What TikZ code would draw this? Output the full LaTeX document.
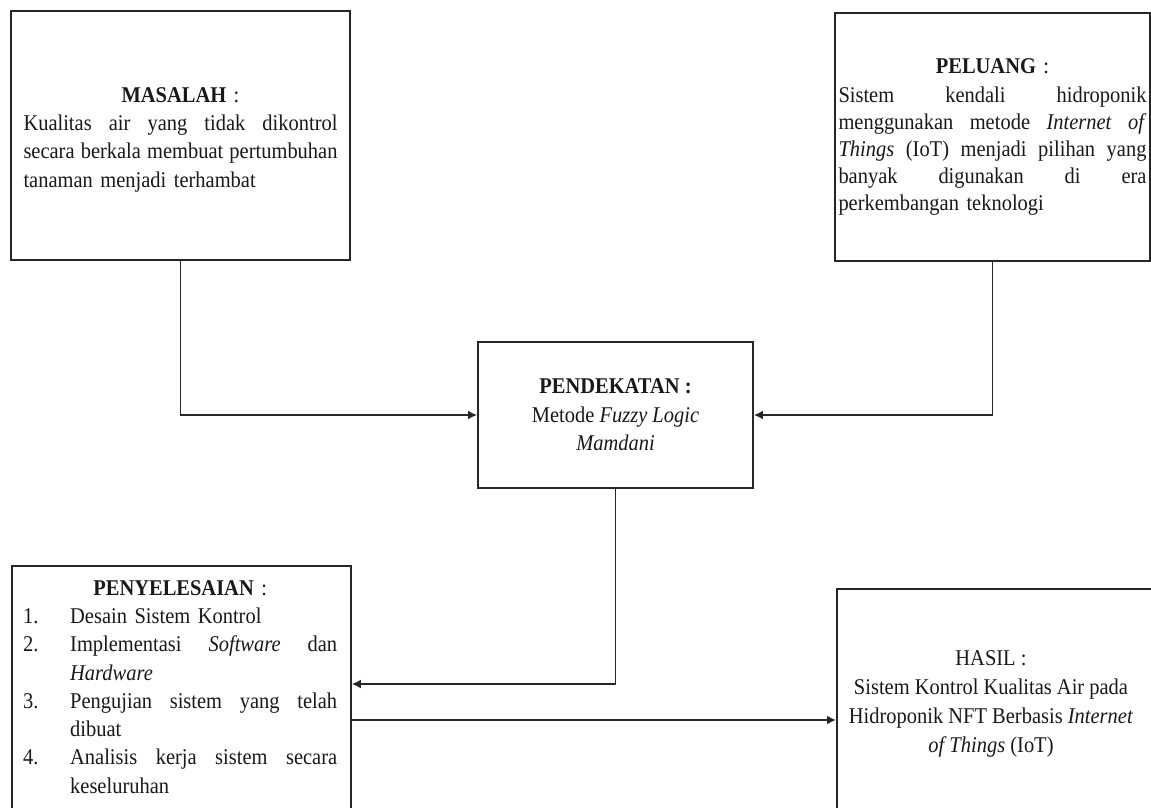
\documentclass[tikz,border=0pt]{standalone}
\usepackage{fontspec}
\setmainfont[FakeStretch=0.91]{Liberation Serif}
\usetikzlibrary{arrows.meta}
\newcommand{\jline}[2]{\makebox[#1][s]{#2}}
\begin{document}
\begin{tikzpicture}[x=1pt,y=1pt,
  box/.style={draw=black!85, line width=1.8pt, rectangle, inner sep=0pt},
  txt/.style={font=\fontsize{22.5}{28.3}\selectfont, inner sep=0pt, text=black!90},
  conn/.style={draw=black!85, line width=1.8pt, -{Latex[length=9pt,width=9pt]}}]
\useasboundingbox (0,0) rectangle (1151,-807);
\clip (0,0) rectangle (1151,-807);
\fill[white] (0,0) rectangle (1151,-807);

\node[box, txt, align=left, text width=314pt, minimum width=339pt, minimum height=249pt] (M) at (180.5,-135.5)
{\makebox[314pt]{\rule{0pt}{22.9pt}\textbf{MASALAH} :}\\
\jline{314pt}{Kualitas\hfill air\hfill yang\hfill tidak\hfill dikontrol}\\
\jline{314pt}{secara\hfill berkala\hfill membuat\hfill pertumbuhan}\\
tanaman menjadi terhambat};

\node[box, txt, align=left, text width=308pt, minimum width=315pt, minimum height=248pt,
  font=\fontsize{22.5}{27}\selectfont] (L) at (992.5,-137)
{\makebox[308pt]{\textbf{PELUANG} :}\\[2pt]
\jline{308pt}{Sistem\hfill kendali\hfill hidroponik}\\
\jline{308pt}{menggunakan\hfill metode\hfill \textit{Internet}\hfill\textit{of}}\\
\jline{308pt}{\textit{Things}\hfill(IoT)\hfill menjadi\hfill pilihan\hfill yang}\\
\jline{308pt}{banyak\hfill digunakan\hfill di\hfill era}\\
perkembangan teknologi};

\node[box, txt, align=center, minimum width=275pt, minimum height=146pt,
  font=\fontsize{22.5}{28.5}\selectfont] (P) at (615.5,-415)
{\textbf{PENDEKATAN :}\\
Metode \textit{Fuzzy Logic}\\
\textit{Mamdani}};

\node[box, anchor=north west, minimum width=339pt, minimum height=300pt] (S) at (11,-565) {};
\path (S.north west) ++(12,-15) node[txt, anchor=north west, align=left, text width=314pt] (St)
{\makebox[314pt]{\textbf{PENYELESAIAN} :}\\
\makebox[47pt][l]{1.}Desain Sistem Kontrol\\
\makebox[47pt][l]{2.}\jline{267pt}{Implementasi\hfill\textit{Software}\hfill dan}\\
\hspace*{47pt}\textit{Hardware}\\
\makebox[47pt][l]{3.}\jline{267pt}{Pengujian\hfill sistem\hfill yang\hfill telah}\\
\hspace*{47pt}dibuat\\
\makebox[47pt][l]{4.}\jline{267pt}{Analisis\hfill kerja\hfill sistem\hfill secara}\\
\hspace*{47pt}keseluruhan};

\node[box, anchor=north west, minimum width=320pt, minimum height=300pt] (H) at (836,-588) {};
\node[txt, anchor=north, align=center, font=\fontsize{22.5}{29.2}\selectfont] (Ht) at (991,-650)
{HASIL :\\
Sistem Kontrol Kualitas Air pada\\
Hidroponik NFT Berbasis \textit{Internet}\\
\textit{of Things} (IoT)};

\draw[conn] (M.south) |- (P.west);
\draw[conn] (L.south) |- (P.east);
\path (S.north east) ++(0,-119) coordinate (sIn) ++(0,-36) coordinate (sOut);
\draw[conn] (P.south) |- (sIn);
\draw[conn] (sOut) -- (sOut -| H.west);
\end{tikzpicture}
\end{document}
